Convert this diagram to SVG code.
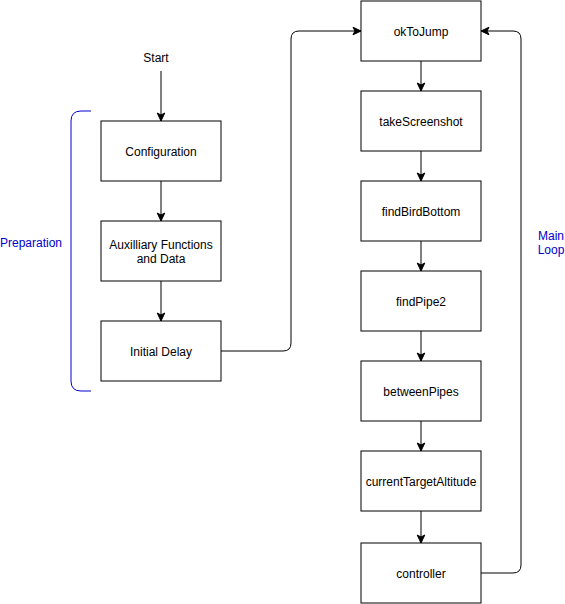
<svg xmlns="http://www.w3.org/2000/svg" width="565" height="604" viewBox="0 0 565 604">
<style>
.box{fill:#fff;stroke:#000;stroke-width:1}
.lbl{font-family:"Liberation Sans",Arial,Helvetica,sans-serif;font-size:12px;fill:#000;text-anchor:middle;dominant-baseline:central}
.blue{fill:#0000CC}
.edge{fill:none;stroke:#000;stroke-width:1}
</style>
<defs>
<marker id="arr" markerUnits="userSpaceOnUse" markerWidth="10" markerHeight="10" viewBox="0 0 10 10" refX="9" refY="5" orient="auto">
<path d="M1,1.2 L9,5 L1,8.8 L3,5 Z" fill="#000" stroke="#000" stroke-width="1"/>
</marker>
</defs>
<rect width="565" height="604" fill="#fff"/>
<g id="start"><text class="lbl" x="156" y="58">Start</text></g>
<g id="preparation">
<path d="M91,111 L81,111 Q71,111 71,121 L71,381 Q71,391 81,391 L91,391" fill="none" stroke="#0000CC" stroke-width="1"/>
<text class="lbl blue" x="31" y="243">Preparation</text>
</g>
<g id="configuration"><rect class="box" x="101" y="121" width="120" height="60"/><text class="lbl" x="161" y="152">Configuration</text></g>
<g id="auxilliary"><rect class="box" x="101" y="221" width="120" height="60"/><text class="lbl" x="161" y="245">Auxilliary Functions</text><text class="lbl" x="161" y="259">and Data</text></g>
<g id="initialDelay"><rect class="box" x="101" y="321" width="120" height="60"/><text class="lbl" x="161" y="352">Initial Delay</text></g>
<g id="okToJump"><rect class="box" x="361" y="1" width="120" height="60"/><text class="lbl" x="421" y="32">okToJump</text></g>
<g id="takeScreenshot"><rect class="box" x="361" y="91" width="120" height="60"/><text class="lbl" x="421" y="122">takeScreenshot</text></g>
<g id="findBirdBottom"><rect class="box" x="361" y="181" width="120" height="60"/><text class="lbl" x="421" y="212">findBirdBottom</text></g>
<g id="findPipe2"><rect class="box" x="361" y="271" width="120" height="60"/><text class="lbl" x="421" y="302">findPipe2</text></g>
<g id="betweenPipes"><rect class="box" x="361" y="361" width="120" height="60"/><text class="lbl" x="421" y="392">betweenPipes</text></g>
<g id="currentTargetAltitude"><rect class="box" x="361" y="451" width="120" height="60"/><text class="lbl" x="421" y="482">currentTargetAltitude</text></g>
<g id="controller"><rect class="box" x="361" y="543" width="120" height="60"/><text class="lbl" x="421" y="574">controller</text></g>
<g id="mainLoop"><text class="lbl blue" x="551" y="236">Main</text><text class="lbl blue" x="551" y="250">Loop</text></g>
<g id="connectors">
<path class="edge" d="M161,71 L161,121" marker-end="url(#arr)"/>
<path class="edge" d="M161,181 L161,221" marker-end="url(#arr)"/>
<path class="edge" d="M161,281 L161,321" marker-end="url(#arr)"/>
<path class="edge" d="M221,351 L283,351 Q291,351 291,343 L291,39 Q291,31 299,31 L361,31" marker-end="url(#arr)"/>
<path class="edge" d="M421,61 L421,91" marker-end="url(#arr)"/>
<path class="edge" d="M421,151 L421,181" marker-end="url(#arr)"/>
<path class="edge" d="M421,241 L421,271" marker-end="url(#arr)"/>
<path class="edge" d="M421,331 L421,361" marker-end="url(#arr)"/>
<path class="edge" d="M421,421 L421,451" marker-end="url(#arr)"/>
<path class="edge" d="M421,511 L421,543" marker-end="url(#arr)"/>
<path class="edge" d="M481,573 L513,573 Q521,573 521,565 L521,39 Q521,31 513,31 L481,31" marker-end="url(#arr)"/>
</g>
</svg>
